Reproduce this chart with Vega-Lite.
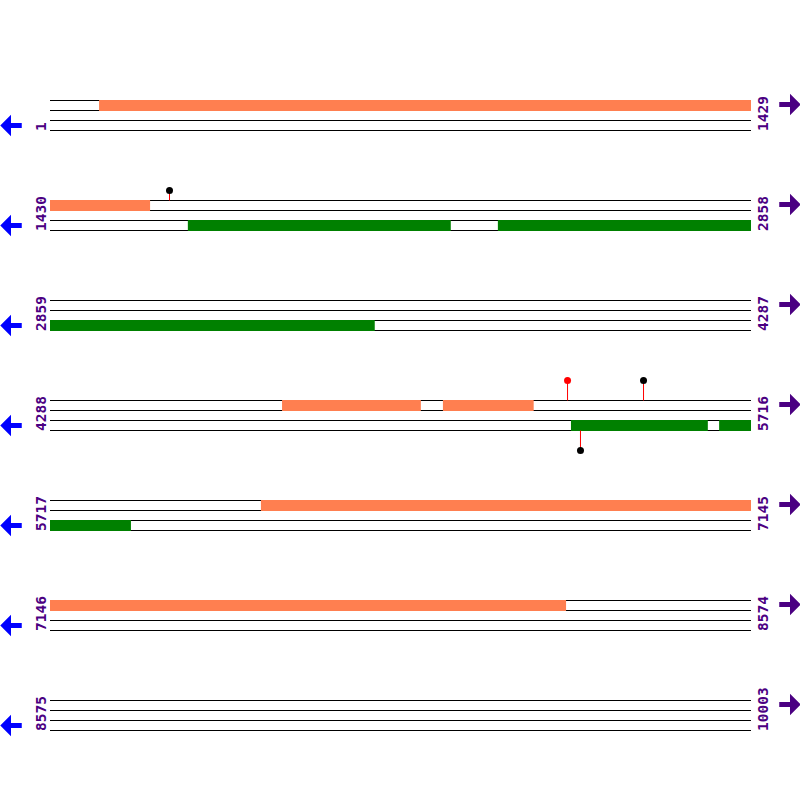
{
  "$schema": "https://vega.github.io/schema/vega-lite/v6.json",
  "padding": {"top": 50, "bottom": 50, "left": 0, "right": 0},
  "background": "white",
  "bounds": "flush",
  "config": {"view": {"stroke": null}, "facet": {"spacing": 0}, "header": {"labels": false, "title": null, "labelPadding": 0, "titlePadding": 0}},
  "spacing": 0,
  "datasets": {
    "d": [
      {"type": "line", "row": 0, "lv": 0}, {"type": "line", "row": 0, "lv": 1}, {"type": "line", "row": 0, "lv": 2}, {"type": "line", "row": 0, "lv": 3},
      {"type": "line", "row": 1, "lv": 0}, {"type": "line", "row": 1, "lv": 1}, {"type": "line", "row": 1, "lv": 2}, {"type": "line", "row": 1, "lv": 3},
      {"type": "line", "row": 2, "lv": 0}, {"type": "line", "row": 2, "lv": 1}, {"type": "line", "row": 2, "lv": 2}, {"type": "line", "row": 2, "lv": 3},
      {"type": "line", "row": 3, "lv": 0}, {"type": "line", "row": 3, "lv": 1}, {"type": "line", "row": 3, "lv": 2}, {"type": "line", "row": 3, "lv": 3},
      {"type": "line", "row": 4, "lv": 0}, {"type": "line", "row": 4, "lv": 1}, {"type": "line", "row": 4, "lv": 2}, {"type": "line", "row": 4, "lv": 3},
      {"type": "line", "row": 5, "lv": 0}, {"type": "line", "row": 5, "lv": 1}, {"type": "line", "row": 5, "lv": 2}, {"type": "line", "row": 5, "lv": 3},
      {"type": "line", "row": 6, "lv": 0}, {"type": "line", "row": 6, "lv": 1}, {"type": "line", "row": 6, "lv": 2}, {"type": "line", "row": 6, "lv": 3},
      {"type": "fwd", "row": 0, "start": 100, "end": 1429},
      {"type": "fwd", "row": 1, "start": 0, "end": 204},
      {"type": "fwd", "row": 3, "start": 473, "end": 756},
      {"type": "fwd", "row": 3, "start": 801, "end": 986},
      {"type": "fwd", "row": 4, "start": 430, "end": 1429},
      {"type": "fwd", "row": 5, "start": 0, "end": 1052},
      {"type": "rev", "row": 1, "start": 281, "end": 817},
      {"type": "rev", "row": 1, "start": 913, "end": 1429},
      {"type": "rev", "row": 2, "start": 0, "end": 662},
      {"type": "rev", "row": 3, "start": 1062, "end": 1341},
      {"type": "rev", "row": 3, "start": 1364, "end": 1429},
      {"type": "rev", "row": 4, "start": 0, "end": 165},
      {"type": "snp", "row": 1, "pos": 243.6, "base": 0, "tip": -1, "kind": "B"},
      {"type": "snp", "row": 3, "pos": 1055.0, "base": 0, "tip": -2, "kind": "A"},
      {"type": "snp", "row": 3, "pos": 1209.9, "base": 0, "tip": -2, "kind": "B"},
      {"type": "snp", "row": 3, "pos": 1081.4, "base": 3, "tip": 5, "kind": "B"},
      {"type": "label", "row": 0, "from": 1, "to": 1429},
      {"type": "label", "row": 1, "from": 1430, "to": 2858},
      {"type": "label", "row": 2, "from": 2859, "to": 4287},
      {"type": "label", "row": 3, "from": 4288, "to": 5716},
      {"type": "label", "row": 4, "from": 5717, "to": 7145},
      {"type": "label", "row": 5, "from": 7146, "to": 8574},
      {"type": "label", "row": 6, "from": 8575, "to": 10003}
    ]
  },
  "data": {"name": "d"},
  "facet": {
    "row": {"field": "row", "type": "ordinal", "title": null, "header": null}
  },
  "spec": {
    "width": 800,
    "height": 100,
    "layer": [
      {
        "transform": [{"filter": "datum.type === 'line'"}],
        "mark": {"type": "rule", "color": "#000000", "strokeWidth": 1},
        "encoding": {
          "x": {"datum": 0, "type": "quantitative", "scale": {"domain": [-101.93, 1528.89], "nice": false, "zero": false}, "axis": null},
          "x2": {"datum": 1429},
          "y": {"field": "lv", "type": "quantitative", "scale": {"domain": [-5.05, 4.95], "reverse": true, "nice": false, "zero": false}, "axis": null}
        }
      },
      {
        "transform": [{"filter": "datum.type === 'fwd'"}],
        "mark": {"type": "rect", "color": "#FF7F50"},
        "encoding": {
          "x": {"field": "start", "type": "quantitative", "axis": null},
          "x2": {"field": "end"},
          "y": {"datum": -0.05, "type": "quantitative", "axis": null},
          "y2": {"datum": 1.05}
        }
      },
      {
        "transform": [{"filter": "datum.type === 'rev'"}],
        "mark": {"type": "rect", "color": "#008000"},
        "encoding": {
          "x": {"field": "start", "type": "quantitative", "axis": null},
          "x2": {"field": "end"},
          "y": {"datum": 1.95, "type": "quantitative", "axis": null},
          "y2": {"datum": 3.05}
        }
      },
      {
        "transform": [{"filter": "datum.type === 'snp'"}],
        "mark": {"type": "rule", "color": "#FF0000", "strokeWidth": 1},
        "encoding": {
          "x": {"field": "pos", "type": "quantitative", "axis": null},
          "y": {"field": "base", "type": "quantitative", "axis": null},
          "y2": {"field": "tip"}
        }
      },
      {
        "transform": [{"filter": "datum.type === 'snp'"}],
        "mark": {"type": "point", "filled": true, "shape": "circle", "size": 49, "opacity": 1, "strokeWidth": 0},
        "encoding": {
          "x": {"field": "pos", "type": "quantitative", "axis": null},
          "y": {"field": "tip", "type": "quantitative", "axis": null},
          "color": {"field": "kind", "type": "nominal", "scale": {"domain": ["A", "B"], "range": ["#FF0000", "#000000"]}, "legend": null}
        }
      },
      {
        "transform": [{"filter": "datum.type === 'label'"}],
        "mark": {"type": "text", "angle": 270, "align": "left", "baseline": "middle", "font": "DejaVu Sans Mono", "fontSize": 14.5, "fontWeight": "bold", "color": "#4B0082"},
        "encoding": {
          "x": {"datum": -17.3, "type": "quantitative", "axis": null},
          "y": {"datum": 3.05, "type": "quantitative", "axis": null},
          "text": {"field": "from", "type": "nominal"}
        }
      },
      {
        "transform": [{"filter": "datum.type === 'label'"}],
        "mark": {"type": "text", "angle": 270, "align": "left", "baseline": "middle", "font": "DejaVu Sans Mono", "fontSize": 14.5, "fontWeight": "bold", "color": "#4B0082"},
        "encoding": {
          "x": {"datum": 1455.5, "type": "quantitative", "axis": null},
          "y": {"datum": 3.05, "type": "quantitative", "axis": null},
          "text": {"field": "to", "type": "nominal"}
        }
      },
      {
        "transform": [{"filter": "datum.type === 'label'"}],
        "mark": {"type": "point", "filled": true, "opacity": 1, "strokeWidth": 0, "size": 462, "color": "#0000FF", "shape": "M -1 0 L 0 -1 L 0 -0.24 L 1 -0.24 L 1 0.24 L 0 0.24 L 0 1 Z"},
        "encoding": {
          "x": {"datum": -79.5, "type": "quantitative", "axis": null},
          "y": {"datum": 2.5, "type": "quantitative", "axis": null}
        }
      },
      {
        "transform": [{"filter": "datum.type === 'label'"}],
        "mark": {"type": "point", "filled": true, "opacity": 1, "strokeWidth": 0, "size": 462, "color": "#4B0082", "shape": "M 1 0 L 0 -1 L 0 -0.24 L -1 -0.24 L -1 0.24 L 0 0.24 L 0 1 Z"},
        "encoding": {
          "x": {"datum": 1508.5, "type": "quantitative", "axis": null},
          "y": {"datum": 0.4, "type": "quantitative", "axis": null}
        }
      }
    ]
  }
}
